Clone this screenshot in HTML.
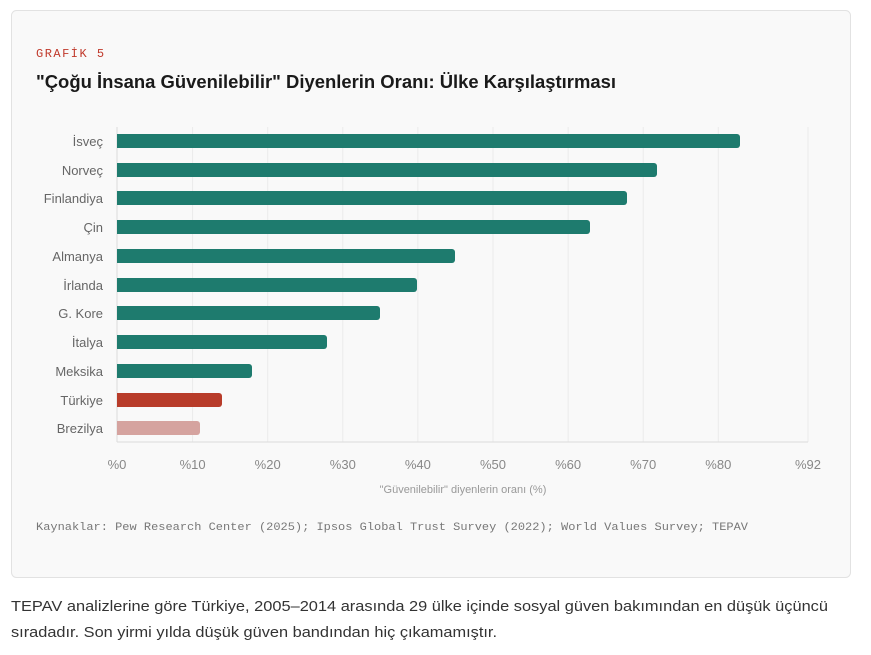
<!DOCTYPE html>
<html><head><meta charset="utf-8"><style>
html,body{margin:0;padding:0;background:#fff;}
svg{display:block;font-family:"Liberation Sans",sans-serif;}
</style></head><body>
<svg width="871" height="655" viewBox="0 0 871 655" xmlns="http://www.w3.org/2000/svg">
<rect x="11.5" y="10.5" width="839" height="567" rx="5" fill="#f9f9f9" stroke="#e2e2e2"/>
<text x="36" y="57" font-family="Liberation Mono,monospace" font-size="12" fill="#c0392b" letter-spacing="1.5">GRAFİK 5</text>
<text x="36" y="88" font-size="18" font-weight="bold" fill="#1a1a1a" textLength="580" lengthAdjust="spacingAndGlyphs">"Çoğu İnsana Güvenilebilir" Diyenlerin Oranı: Ülke Karşılaştırması</text>
<g stroke="#ebebeb" stroke-width="1">
<line x1="192.6" y1="127" x2="192.6" y2="442"/><line x1="267.7" y1="127" x2="267.7" y2="442"/>
<line x1="342.8" y1="127" x2="342.8" y2="442"/><line x1="417.9" y1="127" x2="417.9" y2="442"/>
<line x1="493" y1="127" x2="493" y2="442"/><line x1="568.1" y1="127" x2="568.1" y2="442"/>
<line x1="643.2" y1="127" x2="643.2" y2="442"/><line x1="718.3" y1="127" x2="718.3" y2="442"/>
<line x1="808" y1="127" x2="808" y2="442"/>
</g>
<line x1="117" y1="127" x2="117" y2="442" stroke="#dcdcdc"/>
<line x1="117" y1="442" x2="808" y2="442" stroke="#dcdcdc"/>
<g>
<path d="M117 134H737a3 3 0 0 1 3 3v8a3 3 0 0 1-3 3H117z" fill="#1e7b6e"/>
<path d="M117 163H654a3 3 0 0 1 3 3v8a3 3 0 0 1-3 3H117z" fill="#1e7b6e"/>
<path d="M117 191H624a3 3 0 0 1 3 3v8a3 3 0 0 1-3 3H117z" fill="#1e7b6e"/>
<path d="M117 220H587a3 3 0 0 1 3 3v8a3 3 0 0 1-3 3H117z" fill="#1e7b6e"/>
<path d="M117 249H452a3 3 0 0 1 3 3v8a3 3 0 0 1-3 3H117z" fill="#1e7b6e"/>
<path d="M117 278H414a3 3 0 0 1 3 3v8a3 3 0 0 1-3 3H117z" fill="#1e7b6e"/>
<path d="M117 306H377a3 3 0 0 1 3 3v8a3 3 0 0 1-3 3H117z" fill="#1e7b6e"/>
<path d="M117 335H324a3 3 0 0 1 3 3v8a3 3 0 0 1-3 3H117z" fill="#1e7b6e"/>
<path d="M117 364H249a3 3 0 0 1 3 3v8a3 3 0 0 1-3 3H117z" fill="#1e7b6e"/>
<path d="M117 393H219a3 3 0 0 1 3 3v8a3 3 0 0 1-3 3H117z" fill="#b83c2a"/>
<path d="M117 421H197a3 3 0 0 1 3 3v8a3 3 0 0 1-3 3H117z" fill="#d5a39f"/>
</g>
<g font-size="13" fill="#666" text-anchor="end">
<text x="103" y="146">İsveç</text><text x="103" y="175">Norveç</text>
<text x="103" y="203">Finlandiya</text><text x="103" y="232">Çin</text>
<text x="103" y="261">Almanya</text><text x="103" y="290">İrlanda</text>
<text x="103" y="318">G. Kore</text><text x="103" y="347">İtalya</text>
<text x="103" y="376">Meksika</text><text x="103" y="405">Türkiye</text>
<text x="103" y="433">Brezilya</text>
</g>
<g font-size="13" fill="#888" text-anchor="middle">
<text x="117" y="469">%0</text><text x="192.6" y="469">%10</text><text x="267.7" y="469">%20</text>
<text x="342.8" y="469">%30</text><text x="417.9" y="469">%40</text><text x="493" y="469">%50</text>
<text x="568.1" y="469">%60</text><text x="643.2" y="469">%70</text><text x="718.3" y="469">%80</text>
<text x="808" y="469">%92</text>
</g>
<text x="463" y="493" font-size="11" fill="#999" text-anchor="middle">"Güvenilebilir" diyenlerin oranı (%)</text>
<text x="36" y="530" font-family="Liberation Mono,monospace" font-size="11" fill="#777" textLength="712" lengthAdjust="spacingAndGlyphs">Kaynaklar: Pew Research Center (2025); Ipsos Global Trust Survey (2022); World Values Survey; TEPAV</text>
<text x="11" y="611" font-size="15" fill="#333" textLength="817" lengthAdjust="spacingAndGlyphs">TEPAV analizlerine göre Türkiye, 2005–2014 arasında 29 ülke içinde sosyal güven bakımından en düşük üçüncü</text>
<text x="11" y="637" font-size="15" fill="#333" textLength="486" lengthAdjust="spacingAndGlyphs">sıradadır. Son yirmi yılda düşük güven bandından hiç çıkamamıştır.</text>
</svg>
</body></html>
